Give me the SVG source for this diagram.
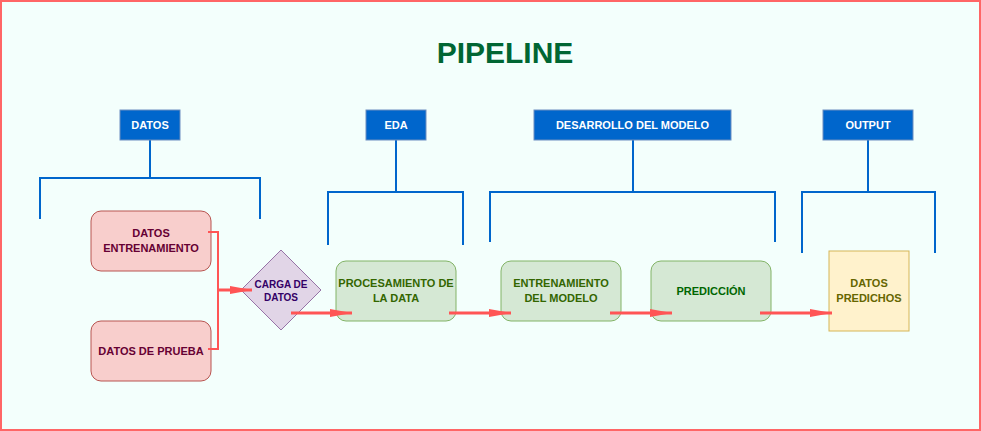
<svg xmlns="http://www.w3.org/2000/svg" width="981" height="431" viewBox="0 0 981 431">
<style>
.hdr{fill:#0066CC;stroke:#6C8EBF;stroke-width:1}
.ht{fill:#FFFFFF;font-family:"Liberation Sans",Arial,sans-serif;font-size:11px;font-weight:bold;text-anchor:middle}
.br{fill:none;stroke:#0066CC;stroke-width:2}
.red{fill:#F8CECC;stroke:#B85450;stroke-width:1}
.grn{fill:#D5E8D4;stroke:#82B366;stroke-width:1}
.yel{fill:#FFF2CC;stroke:#D6B656;stroke-width:1}
.pur{fill:#E1D5E7;stroke:#9673A6;stroke-width:1}
.t{font-family:"Liberation Sans",Arial,sans-serif;font-size:11px;font-weight:bold;text-anchor:middle}
.conn{fill:none;stroke:#FF5555;stroke-width:3}
.conn2{fill:none;stroke:#FF5555;stroke-width:2}
</style>
<defs>
<marker id="arr" markerUnits="userSpaceOnUse" markerWidth="24" markerHeight="10" refX="22" refY="4" orient="auto">
<path d="M0,0 L22,4 L0,8 Z" fill="#FF5555"/>
</marker>
</defs>
<rect x="1" y="1" width="979" height="429" fill="#F3FFFC" stroke="#FF6666" stroke-width="2"/>
<text x="505" y="63" font-family="'Liberation Sans',Arial,sans-serif" font-size="30" font-weight="bold" fill="#006633" text-anchor="middle">PIPELINE</text>

<g id="brackets">
<path class="br" d="M150,140 V178 M40,219 V178 H260 V219"/>
<path class="br" d="M396,140 V192 M328,245 V192 H463 V245"/>
<path class="br" d="M633,140 V192 M490,242 V192 H775 V242"/>
<path class="br" d="M868,140 V192 M802,253 V192 H935 V253"/>
</g>

<g id="hdr-datos"><rect class="hdr" x="120" y="110" width="60" height="30"/><text class="ht" x="150" y="129">DATOS</text></g>
<g id="hdr-eda"><rect class="hdr" x="366" y="110" width="60" height="30"/><text class="ht" x="396" y="129">EDA</text></g>
<g id="hdr-des"><rect class="hdr" x="534" y="110" width="197" height="30"/><text class="ht" x="632.5" y="129">DESARROLLO DEL MODELO</text></g>
<g id="hdr-out"><rect class="hdr" x="823" y="110" width="90" height="30"/><text class="ht" x="868" y="129">OUTPUT</text></g>

<g id="n-entren"><rect class="red" x="91" y="211" width="120" height="60" rx="10"/><text class="t" fill="#660033" x="151" y="237">DATOS</text><text class="t" fill="#660033" x="151" y="252">ENTRENAMIENTO</text></g>
<g id="n-prueba"><rect class="red" x="91" y="321" width="120" height="60" rx="10"/><text class="t" fill="#660033" x="151" y="355">DATOS DE PRUEBA</text></g>
<g id="n-carga"><path class="pur" d="M281,250 L321,290 L281,330 L241,290 Z"/><text class="t" fill="#330066" font-size="10" x="281" y="288" style="font-size:10px">CARGA DE</text><text class="t" fill="#330066" x="281" y="301" style="font-size:10px">DATOS</text></g>
<g id="n-proc"><rect class="grn" x="336" y="261" width="120" height="60" rx="10"/><text class="t" fill="#336600" x="396" y="287">PROCESAMIENTO DE</text><text class="t" fill="#336600" x="396" y="302">LA DATA</text></g>
<g id="n-entmod"><rect class="grn" x="501" y="261" width="120" height="60" rx="10"/><text class="t" fill="#336600" x="561" y="287">ENTRENAMIENTO</text><text class="t" fill="#336600" x="561" y="302">DEL MODELO</text></g>
<g id="n-pred"><rect class="grn" x="651" y="261" width="120" height="60" rx="10"/><text class="t" fill="#006600" x="711" y="295">PREDICCIÓN</text></g>
<g id="n-out"><rect class="yel" x="829" y="251" width="80" height="80"/><text class="t" fill="#666600" x="869" y="287">DATOS</text><text class="t" fill="#666600" x="869" y="302">PREDICHOS</text></g>

<g id="connectors">
<path class="conn2" d="M208,232 H218 V290"/>
<path class="conn2" d="M208,349 H218 V290"/>
<path class="conn" d="M218,290 H252" marker-end="url(#arr)"/>
<path class="conn" d="M291,313 H352" marker-end="url(#arr)"/>
<path class="conn" d="M449,313 H511" marker-end="url(#arr)"/>
<path class="conn" d="M610,313 H672" marker-end="url(#arr)"/>
<path class="conn" d="M760,313 H832" marker-end="url(#arr)"/>
</g>
</svg>
